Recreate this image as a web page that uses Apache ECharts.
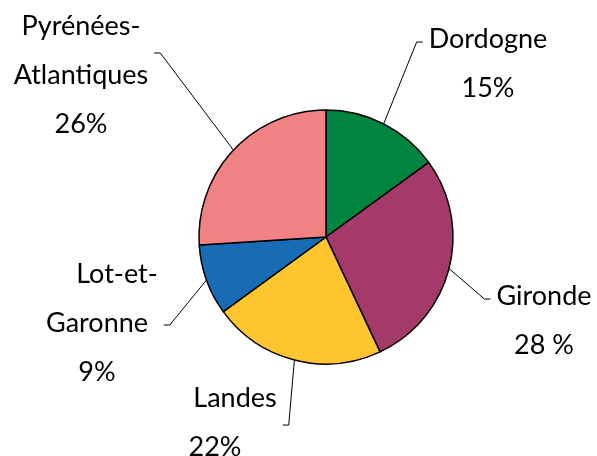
<!DOCTYPE html>
<html><head><meta charset="utf-8">
<script src="https://cdn.jsdelivr.net/npm/echarts@6/dist/echarts.min.js"></script>
<style>html,body{margin:0;padding:0;background:#fff}#c{width:597px;height:456px}</style>
</head><body><div id="c"></div>
<script>
// ---- data ----
const departements = ['Dordogne', 'Gironde', 'Landes', 'Lot-et-Garonne', 'Pyrénées-Atlantiques'];
const shares = [15, 28, 22, 9, 26];
const shareLabels = ['15%', '28 %', '22%', '9%', '26%'];
const nameLines = [['Dordogne'], ['Gironde'], ['Landes'], ['Lot-et-', 'Garonne'], ['Pyrénées-', 'Atlantiques']];

// ---- styles / layout ----
const colors = ['#00853F', '#A33A6A', '#FFC52F', '#176CB5', '#F08283'];
const labelAnchor = [[488, 14.5], [544, 271.5], [215, 373.5], [97, 249.5], [81, 1.5]];
const firstLineStyle = ['t', 't', 'landes', 'lot', 't'];
const leaderSide = ['left', 'left', 'right', 'right', 'right'];
const leaderDy = [27.5, 27.5, 51.5, 75.5, 51.5];
const leaderGap = 6, leaderSeg = 6;
const FONT = 'Lato, "Noto Sans", sans-serif';

const chart = echarts.init(document.getElementById('c'), null, {renderer: 'canvas'});
const txt = {fontSize: 27, lineHeight: 49, fontFamily: FONT, color: '#000'};
chart.setOption({
  animation: false,
  series: [{
    type: 'pie',
    center: [326, 237],
    radius: 127,
    startAngle: 90,
    clockwise: true,
    avoidLabelOverlap: false,
    data: departements.map((d, i) => ({name: d, value: shares[i], itemStyle: {color: colors[i]}})),
    itemStyle: {borderColor: '#000', borderWidth: 1.5},
    label: {
      show: true,
      position: 'outside',
      fontSize: 27, lineHeight: 49, fontFamily: FONT, color: '#000',
      formatter: function (p) {
        const i = p.dataIndex;
        const lines = nameLines[i].map((l, k) => '{' + (k === 0 ? firstLineStyle[i] : 't') + '|' + l + '}');
        lines.push('{t|' + shareLabels[i] + '}');
        return lines.join('\n');
      },
      rich: {
        t: Object.assign({}, txt),
        lot: Object.assign({padding: [0, 0, 0, 40]}, txt),
        landes: Object.assign({padding: [0, 0, 0, 40]}, txt)
      }
    },
    labelLine: {show: true, lineStyle: {color: '#000', width: 1}},
    labelLayout: function (p) {
      const i = p.dataIndex;
      const w = p.labelRect.width;
      const cx = labelAnchor[i][0], top = labelAnchor[i][1];
      const left = leaderSide[i] === 'left';
      const edgeX = left ? cx - w / 2 - leaderGap : cx + w / 2 + leaderGap;
      const sgn = left ? -1 : 1;
      const y = top + leaderDy[i];
      const start = p.labelLinePoints ? p.labelLinePoints[0] : [cx, y];
      return {
        x: cx, y: top, align: 'center', verticalAlign: 'top',
        labelLinePoints: [start, [edgeX + sgn * leaderSeg, y], [edgeX, y]]
      };
    }
  }]
});
</script>
</body></html>
